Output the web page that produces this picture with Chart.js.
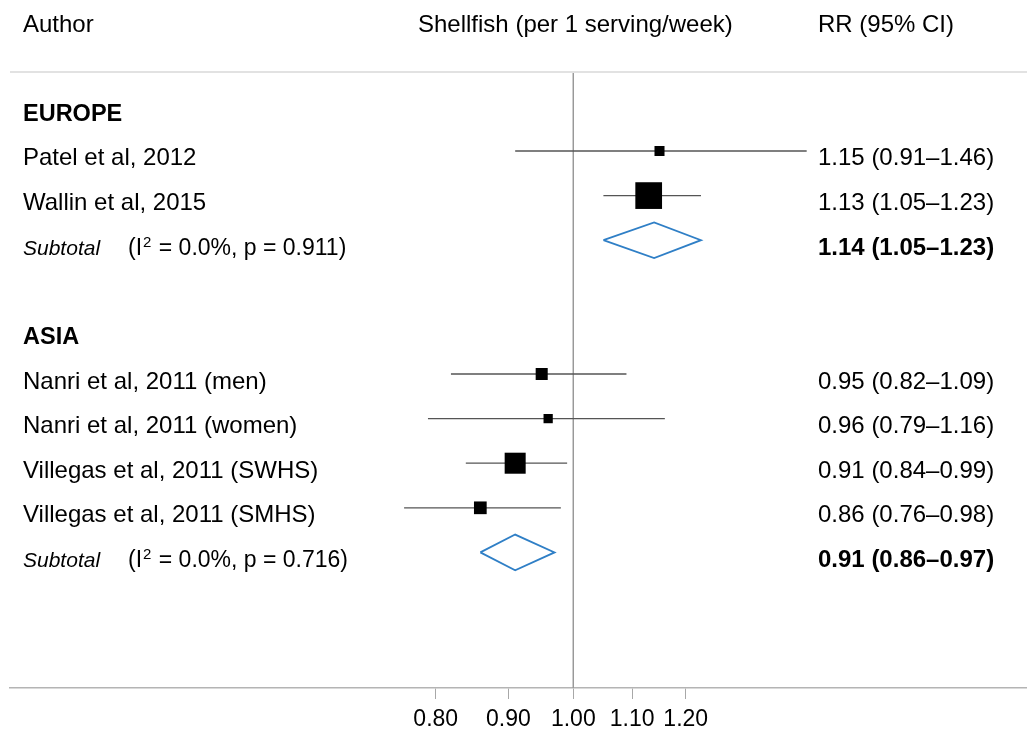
<!DOCTYPE html>
<html>
<head>
<meta charset="utf-8">
<title>Shellfish intake and relative risk</title>
<script src="https://cdn.jsdelivr.net/npm/chart.js@4.4.1/dist/chart.umd.min.js"></script>
<style>
  html, body { margin: 0; padding: 0; background: #ffffff; }
  #wrap { width: 1027px; height: 733px; position: relative; }
</style>
</head>
<body>
<div id="wrap"><canvas id="forest" width="1027" height="733"></canvas></div>
<script>
// ---- Study-level estimates (relative risk per 1 serving/week) ----
const studyNames   = ['Patel et al, 2012', 'Wallin et al, 2015',
                      'Nanri et al, 2011 (men)', 'Nanri et al, 2011 (women)',
                      'Villegas et al, 2011 (SWHS)', 'Villegas et al, 2011 (SMHS)'];
const studyRegions = ['EUROPE', 'EUROPE', 'ASIA', 'ASIA', 'ASIA', 'ASIA'];
const studyRR      = [1.15, 1.13, 0.95, 0.96, 0.91, 0.86];
const studyLower   = [0.91, 1.05, 0.82, 0.79, 0.84, 0.76];
const studyUpper   = [1.46, 1.23, 1.09, 1.16, 0.99, 0.98];
const studyWeight  = [6.1, 43.3, 8.8, 5.2, 26.8, 9.8];   // % weight

// ---- Pooled estimates by region ----
const regionNames  = ['EUROPE', 'ASIA'];
const pooledRR     = [1.14, 0.91];
const pooledLower  = [1.05, 0.86];
const pooledUpper  = [1.23, 0.97];
const regionI2     = ['0.0%', '0.0%'];
const regionP      = ['0.911', '0.716'];

// ---- Axis ----
const xTickValues  = [0.80, 0.90, 1.00, 1.10, 1.20];
const headerAuthor = 'Author';
const headerEffect = 'Shellfish (per 1 serving/week)';
const headerRR     = 'RR (95% CI)';

// ---- Build the row layout: region header, studies, subtotal, spacer ----
const rows = [];
let r = 0;
regionNames.forEach((reg, gi) => {
  rows.push({ kind: 'header', row: r++, label: reg });
  studyNames.forEach((name, i) => {
    if (studyRegions[i] === reg) rows.push({ kind: 'study', row: r++, idx: i });
  });
  rows.push({ kind: 'subtotal', row: r++, idx: gi });
  r++; // blank spacer row
});

const fmt = (est, lo, hi) => est.toFixed(2) + ' (' + lo.toFixed(2) + '\u2013' + hi.toFixed(2) + ')';
const FONT = "'Liberation Sans', Arial, Helvetica, sans-serif";
const DIAMOND_HALF = 0.40;       // half height of pooled diamonds, in rows
const BOX_SCALE = 4.06;          // box side (px) per sqrt(% weight)

// CI whiskers, one segment per study
const ciDatasets = rows.filter(o => o.kind === 'study').map(o => ({
  type: 'scatter', showLine: true, order: 2,
  data: [{ x: studyLower[o.idx], y: o.row }, { x: studyUpper[o.idx], y: o.row }],
  borderColor: '#555555', borderWidth: 1.3, pointRadius: 0, fill: false
}));

// Weighted boxes for point estimates
const studyRows = rows.filter(o => o.kind === 'study');
const boxDataset = {
  type: 'scatter', order: 1,
  data: studyRows.map(o => ({ x: studyRR[o.idx], y: o.row, w: studyWeight[o.idx] })),
  pointStyle: 'rect',
  pointRadius: ctx => {
    const w = ctx.raw ? ctx.raw.w : 1;
    return (BOX_SCALE * Math.sqrt(w)) / (2 * Math.SQRT1_2);
  },
  backgroundColor: '#000000', borderWidth: 0, pointBorderWidth: 0
};

// Pooled diamonds
const diamondDatasets = rows.filter(o => o.kind === 'subtotal').map(o => {
  const g = o.idx;
  return {
    type: 'scatter', showLine: true, order: 1,
    data: [
      { x: pooledLower[g], y: o.row },
      { x: pooledRR[g],    y: o.row - DIAMOND_HALF },
      { x: pooledUpper[g], y: o.row },
      { x: pooledRR[g],    y: o.row + DIAMOND_HALF },
      { x: pooledLower[g], y: o.row }
    ],
    borderColor: '#2f7fc6', borderWidth: 1.8, pointRadius: 0, fill: false, tension: 0
  };
});

// y range: from the top separator down to the x axis
const Y_MIN = -0.771, Y_MAX = 13.04;

// Null-effect reference line at RR = 1
const nullLine = {
  type: 'scatter', showLine: true, order: 3,
  data: [{ x: 1, y: Y_MIN }, { x: 1, y: Y_MAX }],
  borderColor: '#9a9a9a', borderWidth: 1, pointRadius: 0, fill: false
};

// Text columns and the header separator
const tablePlugin = {
  id: 'forestTable',
  afterDraw(chart) {
    const ctx = chart.ctx;
    const ys = chart.scales.y;
    const left = 23, effX = 418, rrX = 818;
    ctx.save();
    // header separator
    ctx.strokeStyle = '#e2e2e2';
    ctx.lineWidth = 2;
    ctx.beginPath();
    ctx.moveTo(10, 72); ctx.lineTo(1027, 72);
    ctx.stroke();

    ctx.fillStyle = '#000';
    ctx.textBaseline = 'alphabetic';
    ctx.textAlign = 'left';
    ctx.font = '24px ' + FONT;
    ctx.fillText(headerAuthor, left, 32);
    ctx.fillText(headerEffect, effX, 32);
    ctx.fillText(headerRR, rrX, 32);

    rows.forEach(o => {
      const yb = ys.getPixelForValue(o.row) + 14.5;
      if (o.kind === 'header') {
        ctx.font = 'bold 23.5px ' + FONT;
        ctx.fillText(o.label, left, yb);
      } else if (o.kind === 'study') {
        const i = o.idx;
        ctx.font = '24px ' + FONT;
        ctx.fillText(studyNames[i], left, yb);
        ctx.fillText(fmt(studyRR[i], studyLower[i], studyUpper[i]), rrX, yb);
      } else if (o.kind === 'subtotal') {
        const g = o.idx;
        ctx.font = 'italic 21px ' + FONT;
        ctx.fillText('Subtotal', left, yb);
        let x = 128;
        ctx.font = '23px ' + FONT;
        ctx.fillText('(I', x, yb);
        x += ctx.measureText('(I').width + 1;
        ctx.font = '15px ' + FONT;
        ctx.fillText('2', x, yb - 8);
        x += ctx.measureText('2').width + 1;
        ctx.font = '23px ' + FONT;
        ctx.fillText(' = ' + regionI2[g] + ', p = ' + regionP[g] + ')', x, yb);
        ctx.font = 'bold 24px ' + FONT;
        ctx.fillText(fmt(pooledRR[g], pooledLower[g], pooledUpper[g]), rrX, yb);
      }
    });
    ctx.restore();
  }
};

new Chart(document.getElementById('forest'), {
  type: 'scatter',
  data: { datasets: [nullLine, ...ciDatasets, boxDataset, ...diamondDatasets] },
  options: {
    responsive: false,
    devicePixelRatio: 1,
    animation: false,
    events: [],
    layout: { autoPadding: false, padding: { left: 10, right: 0, top: 72, bottom: 0 } },
    plugins: { legend: { display: false }, tooltip: { enabled: false } },
    scales: {
      x: {
        type: 'logarithmic',
        position: 'bottom',
        min: 0.4011,
        max: 2.087,
        afterBuildTicks: s => { s.ticks = xTickValues.map(v => ({ value: v })); },
        afterFit: s => { s.height = 45; },
        grid: { drawOnChartArea: false, drawTicks: true, tickLength: 11, color: '#a8a8a8', lineWidth: 1 },
        border: { display: true, color: '#b4b4b4', width: 1.5 },
        ticks: {
          autoSkip: false, maxRotation: 0, minRotation: 0, padding: 7,
          color: '#000', font: { family: FONT, size: 23 },
          callback: v => Number(v).toFixed(2)
        }
      },
      y: {
        type: 'linear',
        display: false,
        reverse: true,
        min: Y_MIN,
        max: Y_MAX
      }
    }
  },
  plugins: [tablePlugin]
});
</script>
</body>
</html>
